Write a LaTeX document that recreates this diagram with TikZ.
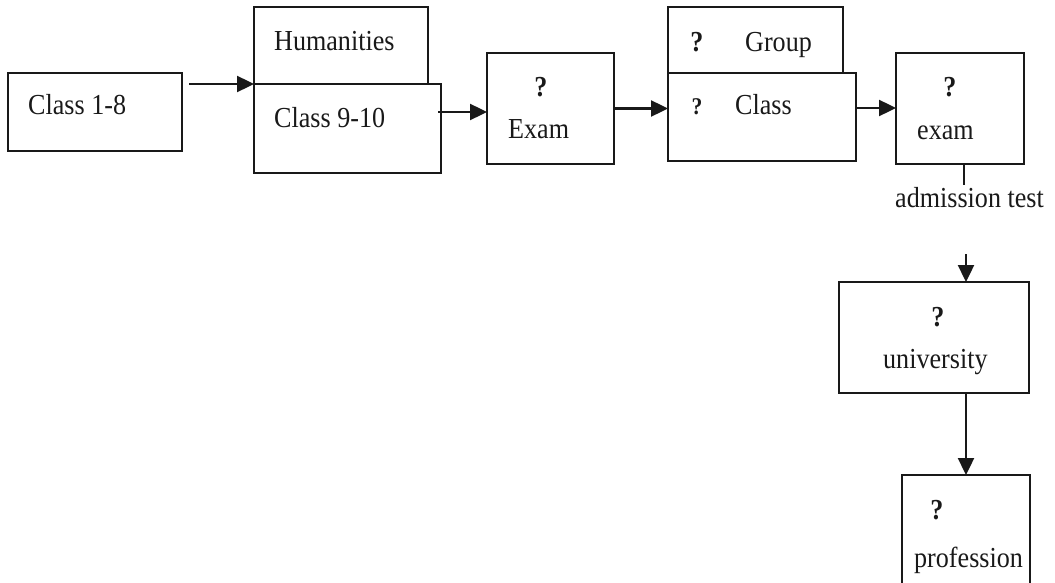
\documentclass[tikz,border=0pt]{standalone}
\usepackage{fontspec}
\setmainfont{Liberation Serif}
\usetikzlibrary{arrows.meta}
\tikzset{
  box/.style={draw=black!90, line width=2.4pt, inner sep=0pt, outer sep=0pt, rectangle},
  lbl/.style={inner sep=0pt, font=\fontsize{29}{31}\selectfont, text=black!90, xscale=0.9, transform shape},
  qm/.style={inner sep=0pt, font=\fontsize{29}{31}\selectfont\bfseries, text=black!90, xscale=0.9, transform shape},
  qms/.style={inner sep=0pt, font=\fontsize{24}{26}\selectfont\bfseries, text=black!90, xscale=0.9, transform shape},
  conn/.style={line width=2.4pt, draw=black!90, -{Triangle[length=17pt,width=16pt]}},
  plain/.style={line width=2.4pt, draw=black!90}
}
\begin{document}
\begin{tikzpicture}[x=1pt,y=-1pt]
\useasboundingbox (0,0) rectangle (1055,583);
\clip (0,0) rectangle (1055,583);
% boxes
\node[box, minimum width=174pt, minimum height=78pt] (c18) at (95,112) {};
\node[box, minimum width=174pt, minimum height=77pt] (hum) at (341,45.5) {};
\node[box, minimum width=187pt, minimum height=89pt] (c910) at (347.5,128.5) {};
\node[box, minimum width=127pt, minimum height=111pt] (ex1) at (550.5,108.5) {};
\node[box, minimum width=175pt, minimum height=66pt] (grp) at (755.5,40) {};
\node[box, minimum width=188pt, minimum height=88pt] (cls) at (762,117) {};
\node[box, minimum width=128pt, minimum height=111pt] (ex2) at (960,108.5) {};
\node[box, minimum width=190pt, minimum height=111pt] (univ) at (934,337.5) {};
\node[box, minimum width=128pt, minimum height=140pt] (prof) at (966,545) {};
% texts
\node[lbl, anchor=base west] (t18) at (28,115) {Class 1-8};
\node[lbl, anchor=base west] (thum) at (274,51) {Humanities};
\node[lbl, anchor=base west] (t910) at (274,128) {Class 9-10};
\node[qm, anchor=base] (q1) at (541,97) {?};
\node[lbl, anchor=base west] (tex1) at (508,139) {Exam};
\node[qm, anchor=base] (q2) at (697,52) {?};
\node[lbl, anchor=base west] (tgrp) at (745,52) {Group};
\node[qms, anchor=base] (q3) at (697,115) {?};
\node[lbl, anchor=base west] (tcls) at (735,115) {Class};
\node[qm, anchor=base] (q4) at (950,97) {?};
\node[lbl, anchor=base west] (tex2) at (917,140) {exam};
\node[lbl, anchor=base west] (tadm) at (895,207) {admission test};
\node[qm, anchor=base] (q5) at (938,326) {?};
\node[lbl, anchor=base west] (tuni) at (883,368) {university};
\node[qm, anchor=base] (q6) at (937,519) {?};
\node[lbl, anchor=base west] (tpro) at (914,567) {profession};
% connector ends
\coordinate (s0) at (189,84);
\coordinate (s1) at (438,112);
\coordinate (s3) at (856,108);
\coordinate (tk) at (964,185);
\coordinate (s4) at (966,254);
% connectors
\draw[conn] (s0) -- (hum.south west);
\draw[conn] (s1) -- (s1 -| ex1.west);
\draw[conn] (ex1.east) -- (ex1.east -| cls.west);
\draw[conn] (s3) -- (s3 -| ex2.west);
\draw[plain] (tk |- ex2.south) -- (tk);
\draw[conn] (s4) -- (s4 |- univ.north);
\draw[conn] (prof.north |- univ.south) -- (prof.north);
\end{tikzpicture}
\end{document}
